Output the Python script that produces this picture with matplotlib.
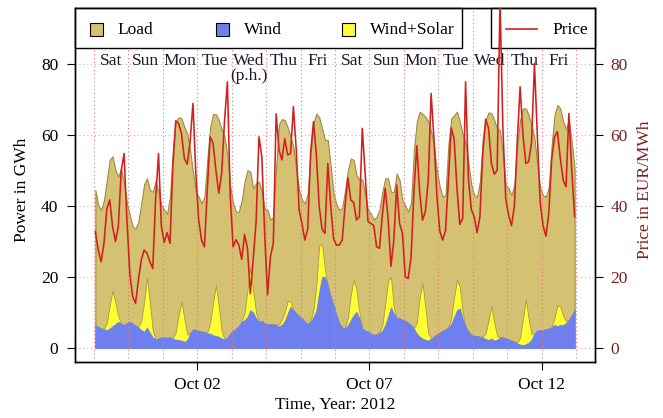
import numpy as np
import pandas as pd
import matplotlib
matplotlib.use('Agg')
import matplotlib.pyplot as plt
import matplotlib.dates as mdates
from matplotlib.patches import Rectangle
from matplotlib.lines import Line2D

plt.rcParams['font.family'] = ['Liberation Serif', 'DejaVu Serif']
plt.rcParams['font.size'] = 12.5

W, H = 663, 418

# two-hourly readings (01:00, 03:00, ..., 23:00), one row per day, 29 Sep - 12 Oct 2012
day_names = ['Sat', 'Sun', 'Mon', 'Tue', 'Wed', 'Thu', 'Fri',
             'Sat', 'Sun', 'Mon', 'Tue', 'Wed', 'Thu', 'Fri']
holiday_day = 4  # Wed 03 Oct, public holiday

load_gwh = [
    [44.5, 40.3, 38.9, 41.7, 47.3, 53.0, 54.0, 50.1, 48.3, 50.6, 46.4, 40.8],
    [37.5, 34.2, 33.7, 35.6, 40.8, 46.2, 47.8, 44.5, 44.0, 47.0, 44.0, 40.3],
    [38.9, 37.9, 42.6, 55.8, 63.8, 65.0, 64.7, 62.3, 60.3, 55.8, 49.7, 44.0],
    [42.6, 40.8, 42.6, 53.0, 62.3, 65.9, 65.9, 64.2, 61.6, 59.5, 54.4, 45.4],
    [40.8, 38.4, 38.4, 41.7, 46.9, 50.1, 49.7, 45.0, 46.4, 46.9, 44.0, 39.3],
    [38.9, 36.1, 37.0, 51.0, 63.1, 64.5, 64.2, 62.2, 59.5, 56.7, 50.1, 44.5],
    [41.7, 40.8, 43.6, 54.8, 63.3, 66.1, 65.0, 61.9, 58.6, 58.6, 51.1, 43.6],
    [40.5, 38.9, 39.4, 44.5, 50.1, 53.4, 53.0, 48.7, 47.5, 47.5, 43.6, 38.9],
    [37.9, 36.2, 37.0, 38.9, 44.0, 47.8, 47.8, 44.0, 44.0, 49.2, 47.3, 41.7],
    [40.0, 38.4, 41.0, 55.8, 63.8, 66.6, 65.9, 65.2, 63.8, 61.0, 57.0, 50.0],
    [45.4, 42.6, 43.1, 57.2, 64.7, 65.6, 66.6, 63.8, 60.0, 58.0, 52.0, 46.0],
    [43.1, 42.6, 46.9, 59.1, 64.2, 66.4, 66.1, 64.2, 61.8, 61.4, 54.4, 45.9],
    [45.0, 43.1, 45.9, 57.2, 64.3, 67.5, 67.5, 65.6, 62.6, 59.1, 51.6, 45.0],
    [43.1, 42.6, 45.4, 57.2, 65.8, 68.5, 67.5, 63.8, 61.8, 64.2, 58.0, 50.5],
]

wind_gwh = [
    [6.4, 6.0, 5.5, 5.3, 5.1, 5.5, 6.2, 6.8, 7.4, 6.8, 6.5, 7.1],
    [7.4, 6.9, 6.3, 5.8, 5.1, 4.6, 5.8, 4.3, 3.0, 2.4, 2.7, 3.0],
    [3.0, 2.9, 3.0, 2.7, 2.4, 2.3, 2.1, 1.8, 2.3, 4.1, 5.3, 5.1],
    [4.9, 4.6, 4.6, 4.1, 4.1, 3.6, 3.4, 3.2, 2.7, 2.4, 3.0, 4.1],
    [4.9, 5.5, 6.2, 7.4, 7.9, 8.8, 10.7, 10.0, 8.4, 7.4, 7.7, 6.9],
    [6.8, 6.8, 6.7, 6.5, 6.2, 6.5, 7.7, 9.8, 11.6, 10.7, 9.8, 9.0],
    [8.4, 7.4, 6.8, 7.4, 8.8, 10.7, 15.9, 20.1, 20.1, 17.7, 14.5, 12.1],
    [9.3, 6.9, 5.8, 5.5, 6.5, 7.9, 9.3, 10.2, 8.4, 5.5, 4.9, 4.6],
    [4.1, 3.7, 3.9, 4.3, 4.9, 6.5, 9.0, 11.5, 9.8, 8.5, 8.4, 7.9],
    [7.7, 7.1, 6.5, 5.5, 4.1, 3.2, 2.7, 2.3, 2.1, 2.7, 3.2, 3.9],
    [4.3, 4.9, 5.3, 5.8, 6.8, 8.8, 10.7, 11.2, 8.4, 6.0, 4.6, 3.7],
    [3.4, 3.4, 3.2, 3.0, 2.6, 2.3, 2.7, 2.1, 2.4, 3.0, 3.0, 2.7],
    [2.4, 2.1, 1.8, 1.3, 1.0, 0.8, 1.1, 1.5, 2.4, 4.1, 4.9, 5.1],
    [5.1, 5.3, 5.5, 5.8, 6.5, 6.2, 6.5, 6.5, 7.1, 7.9, 9.3, 10.7],
]

solar_gwh = [
    [0, 0, 0, 0.2, 2.0, 6.5, 10.0, 6.0, 1.5, 0, 0, 0],
    [0, 0, 0, 0.2, 2.5, 8.5, 14.0, 8.5, 2.0, 0, 0, 0],
    [0, 0, 0, 0.2, 2.0, 7.0, 11.0, 6.5, 1.5, 0, 0, 0],
    [0, 0, 0, 0.2, 3.0, 9.0, 14.3, 8.5, 2.0, 0, 0, 0],
    [0, 0, 0, 0.2, 2.0, 7.5, 12.0, 6.0, 1.5, 0, 0, 0],
    [0, 0, 0, 0.1, 0.5, 1.5, 2.5, 3.5, 1.5, 0, 0, 0],
    [0, 0, 0, 0.2, 2.0, 7.0, 13.0, 9.0, 2.0, 0, 0, 0],
    [0, 0, 0, 0.2, 2.0, 7.0, 10.0, 6.0, 1.5, 0, 0, 0],
    [0, 0, 0, 0.2, 1.5, 6.0, 10.0, 8.5, 1.5, 0, 0, 0],
    [0, 0, 0, 0.2, 3.0, 11.0, 15.5, 9.0, 2.0, 0, 0, 0],
    [0, 0, 0, 0.2, 1.5, 5.5, 8.5, 6.0, 1.5, 0, 0, 0],
    [0, 0, 0, 0.2, 1.5, 5.5, 9.0, 5.0, 1.0, 0, 0, 0],
    [0, 0, 0, 0.2, 2.0, 7.5, 12.5, 6.5, 1.5, 0, 0, 0],
    [0, 0, 0, 0.2, 2.0, 5.8, 5.2, 2.5, 0.5, 0, 0, 0],
]

price_eur = [
    [32.8, 27.6, 24.3, 29.5, 39.3, 41.7, 34.2, 30.0, 34.2, 50.0, 54.8, 36.0],
    [21.0, 14.5, 12.6, 19.2, 24.8, 27.6, 26.7, 24.3, 22.4, 42.0, 54.8, 34.2],
    [29.8, 32.5, 29.5, 51.1, 64.0, 63.3, 60.5, 53.4, 51.8, 58.0, 68.9, 49.2],
    [36.1, 30.4, 28.5, 44.5, 59.5, 57.7, 50.1, 43.6, 49.2, 64.0, 75.0, 42.6],
    [28.5, 30.5, 29.0, 25.0, 32.0, 28.0, 15.4, 25.0, 35.6, 59.5, 53.9, 32.0],
    [15.0, 25.7, 29.5, 66.0, 55.8, 53.0, 59.0, 54.4, 54.8, 68.0, 55.8, 38.9],
    [35.0, 30.4, 33.5, 55.0, 63.8, 54.5, 39.8, 33.5, 32.3, 52.0, 40.0, 30.8],
    [29.0, 29.0, 30.4, 40.0, 48.0, 41.7, 41.0, 36.1, 37.0, 61.9, 49.2, 35.6],
    [35.1, 34.5, 28.5, 28.1, 37.5, 45.0, 36.5, 23.0, 30.4, 45.9, 35.1, 32.3],
    [20.0, 19.6, 25.5, 44.0, 57.0, 44.0, 36.0, 38.5, 47.3, 71.7, 58.6, 43.0],
    [33.0, 30.4, 33.0, 47.0, 62.0, 59.0, 45.0, 34.8, 36.5, 75.0, 47.5, 39.0],
    [37.0, 32.5, 37.0, 55.0, 64.5, 62.0, 52.0, 49.0, 50.0, 98.0, 62.0, 42.0],
    [37.5, 34.5, 40.0, 58.0, 73.6, 60.0, 52.0, 52.5, 58.0, 80.2, 60.0, 41.0],
    [34.5, 31.5, 38.0, 53.0, 59.5, 61.0, 53.5, 47.3, 45.4, 66.1, 50.0, 37.0],
]

times = pd.date_range('2012-09-29 01:00', periods=14 * 12, freq='2h')
load = np.ravel(load_gwh)
wind = np.ravel(wind_gwh)
wind_solar = wind + np.ravel(solar_gwh)
price = np.ravel(price_eur)

start = pd.Timestamp('2012-09-29')
midnights = pd.date_range(start, periods=15, freq='D')

c_load = '#D5C172'
c_wind = '#6E80F0'
c_sol = '#FFFF33'
c_price = '#D21F1F'
c_right = '#7B1F1F'

fig = plt.figure(figsize=(W / 100, H / 100), dpi=100)
ax = fig.add_axes([75 / W, 1 - 362 / H, 520 / W, 354 / H])

for y in [0, 20, 40, 60, 80]:
    ax.axhline(y, color='#BDBDBD', ls=(0, (1, 2.5)), lw=0.8, zorder=0.5)

ax.fill_between(times, 0, load, facecolor=c_load, edgecolor='#9C8C45', lw=0.8, zorder=1)
ax.fill_between(times, 0, wind_solar, facecolor=c_sol, edgecolor='#A89B3C', lw=0.6, zorder=2)
ax.fill_between(times, 0, wind, facecolor=c_wind, edgecolor=c_wind, lw=0.5, zorder=3)

for t in midnights:
    ax.axvline(t, color='#E07878', ls=(0, (1, 2.5)), lw=0.8, zorder=4)

for i, name in enumerate(day_names):
    noon = start + pd.Timedelta(days=i, hours=12)
    ax.text(noon, 80.8, name, ha='center', va='center', color='#24162e', zorder=5)
    if i == holiday_day:
        ax.text(noon, 76.6, '(p.h.)', ha='center', va='center', color='#24162e', zorder=5)

ax.set_xlim(start - pd.Timedelta(hours=13.2), start + pd.Timedelta(days=14, hours=13.2))
ax.set_ylim(-3.94, 95.8)
ax.set_yticks([0, 20, 40, 60, 80])
ax.set_xticks([pd.Timestamp('2012-10-02'), pd.Timestamp('2012-10-07'), pd.Timestamp('2012-10-12')])
ax.xaxis.set_major_formatter(mdates.DateFormatter('%b %d'))
ax.tick_params(direction='out', length=6, width=0.8, pad=5)
ax.tick_params(axis='y', pad=6)

ax2 = ax.twinx()
ax2.plot(times, price, color=c_price, lw=1.15, zorder=3)
ax2.set_ylim(-3.94, 95.8)
ax2.set_yticks([0, 20, 40, 60, 80])
ax2.tick_params(direction='out', length=6, width=0.8, pad=5, labelcolor=c_right)
for a in (ax, ax2):
    for s in a.spines.values():
        s.set_linewidth(1.0)

# legend boxes (drawn in the first axes so the price line can cross them)
def fx(x):
    return x / W

def fy(y):
    return 1 - y / H

for x0, x1 in [(75, 462), (491, 595)]:
    ax.add_patch(Rectangle((fx(x0), fy(48)), (x1 - x0) / W, 40 / H, transform=fig.transFigure,
                           facecolor='white', edgecolor='black', lw=1.0, zorder=10, clip_on=False))

for px, label, col in [(90, 'Load', c_load), (216, 'Wind', c_wind), (342, 'Wind+Solar', c_sol)]:
    ax.add_patch(Rectangle((fx(px), fy(35.5)), 13 / W, 13 / H, transform=fig.transFigure,
                           facecolor=col, edgecolor='black', lw=0.8, zorder=11, clip_on=False))
    ax.text(fx(px + 27.5), fy(29.5), label, transform=fig.transFigure, ha='left', va='center',
            zorder=11, clip_on=False)

ax.add_line(Line2D([fx(506), fx(537)], [fy(28.5), fy(28.5)], transform=fig.transFigure,
                   color=c_price, lw=1.2, zorder=11, clip_on=False))
ax.text(fx(552), fy(29.5), 'Price', transform=fig.transFigure, ha='left', va='center',
        zorder=11, clip_on=False)

fig.text(fx(22), fy(190), 'Power in GWh', rotation=90, ha='center', va='center')
fig.text(fx(645), fy(190), 'Price in EUR/MWh', rotation=90, ha='center', va='center', color=c_right)
fig.text(fx(335), fy(405), 'Time, Year: 2012', ha='center', va='center')

fig.savefig('out.png', dpi=100)
